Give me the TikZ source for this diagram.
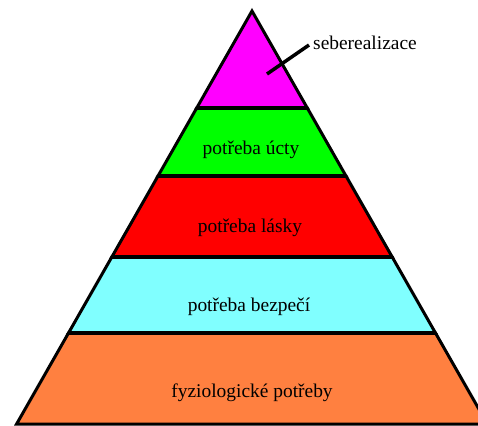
\documentclass[tikz,border=0pt]{standalone}
\usepackage{fontspec}
\setmainfont{Liberation Serif}
\definecolor{fialova}{RGB}{255,0,255}
\definecolor{zelena}{RGB}{0,255,0}
\definecolor{cervena}{RGB}{255,0,0}
\definecolor{azurova}{RGB}{128,255,255}
\definecolor{oranzova}{RGB}{255,128,64}
\begin{document}
\begin{tikzpicture}[x=1bp,y=-1bp,
    vrstva/.style={draw=black,line width=3bp,line join=miter},
    hranice/.style={draw=black,line width=4.5bp},
    popis/.style={font=\fontsize{19.5}{21}\selectfont,inner sep=2bp}]
    \useasboundingbox (0,0) rectangle (478,425);
    \clip (0,0) rectangle (478,425);
    \filldraw[vrstva,fill=oranzova] (16.6,424) -- (68.5,333) -- (435.5,333) -- (487.4,424) -- cycle;
    \filldraw[vrstva,fill=azurova] (68.5,333) -- (111.8,257) -- (392.2,257) -- (435.5,333) -- cycle;
    \filldraw[vrstva,fill=cervena] (111.8,257) -- (158,176) -- (346,176) -- (392.2,257) -- cycle;
    \filldraw[vrstva,fill=zelena] (158,176) -- (196.7,108) -- (307.3,108) -- (346,176) -- cycle;
    \filldraw[vrstva,fill=fialova] (196.7,108) -- (252,11) -- (307.3,108) -- cycle;
    \draw[hranice] (196.7,108) -- (307.3,108);
    \draw[hranice] (158,176) -- (346,176);
    \draw[hranice] (111.8,257) -- (392.2,257);
    \draw[hranice] (68.5,333) -- (435.5,333);
    \node[popis] (fyzio) at (252,393) {fyziologické potřeby};
    \node[popis] (bezpeci) at (249,307) {potřeba bezpečí};
    \node[popis] (laska) at (250,228) {potřeba lásky};
    \node[popis] (ucta) at (251,150) {potřeba úcty};
    \node[popis,anchor=west] (sebe) at (311,43) {seberealizace};
    \coordinate (hrot) at (267,74);
    \draw[line width=3.5bp] (hrot) -- ([xshift=-2bp,yshift=-2bp]sebe.west);
\end{tikzpicture}
\end{document}
